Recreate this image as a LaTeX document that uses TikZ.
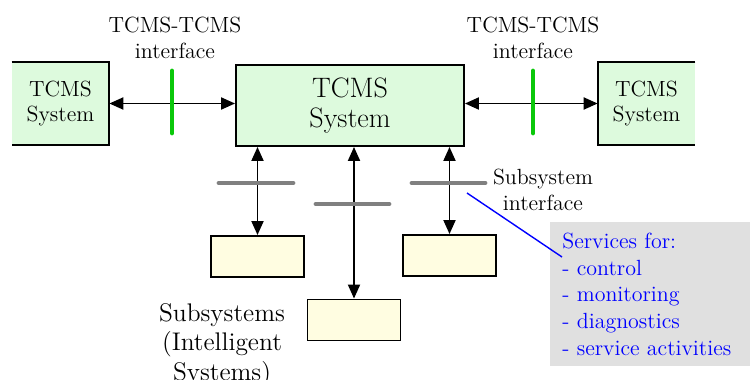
\documentclass[tikz,border=0pt]{standalone}
\usepackage{fontspec}
\usetikzlibrary{arrows.meta}
\definecolor{sysgreen}{RGB}{221,250,221}
\definecolor{subyellow}{RGB}{255,253,225}
\definecolor{ifgreen}{RGB}{10,200,10}
\definecolor{ifgray}{RGB}{128,128,128}
\definecolor{servgray}{RGB}{224,224,224}

\begin{document}
\begin{tikzpicture}
  [x=0.02cm,y=-0.02cm,>={Triangle[length=0.28cm,width=0.24cm]},
   every node/.style={font=\fontsize{12.5}{14.7}\selectfont,align=center},
   sysbox/.style={fill=sysgreen,minimum width=1.94cm,minimum height=1.66cm},
   mainbox/.style={draw,line width=1.1pt,fill=sysgreen,minimum width=4.56cm,minimum height=1.62cm,
     font=\fontsize{16}{17}\selectfont},
   subbox/.style={draw,line width=1.1pt,fill=subyellow,minimum width=1.86cm,minimum height=0.82cm},
   ifbar/.style={line width=2.8pt,line cap=round}]
  \useasboundingbox (0,0) rectangle (750,379);

  \node[sysbox] (lsys) at (60.5,103.5) {TCMS\\System};
  \node[sysbox] (rsys) at (646.5,103.5) {TCMS\\System};
  \node[mainbox] (tcms) at (350,105.5) {TCMS\\System};
  \node[subbox] (sub1) at (257.5,256.5) {};
  \node[subbox] (sub2) at (354,320) {};
  \node[subbox] (sub3) at (449.5,255.5) {};

  % open-sided outer systems
  \draw[line width=1.1pt] (lsys.north west) -- (lsys.north east) -- (lsys.south east) -- (lsys.south west);
  \draw[line width=1.1pt] (rsys.north east) -- (rsys.north west) -- (rsys.south west) -- (rsys.south east);

  \draw[<->,line width=1.1pt] (lsys.east) -- (lsys.east -| tcms.west);
  \draw[<->,line width=1.1pt] (rsys.west) -- (rsys.west -| tcms.east);
  \foreach \s in {sub1,sub2,sub3}
    \draw[<->,line width=1.1pt] (\s.north |- tcms.south) -- (\s.north);

  \draw[ifbar,ifgreen] (172,71) -- (172,133);
  \draw[ifbar,ifgreen] (533,71) -- (533,133);
  \draw[ifbar,ifgray] (219,183) -- (293,183);
  \draw[ifbar,ifgray] (316,204) -- (389,204);
  \draw[ifbar,ifgray] (412,183) -- (485,183);

  \node (lif) at (175,38) {TCMS-TCMS\\interface};
  \node (rif) at (533,38) {TCMS-TCMS\\interface};
  \node (subif) at (543,190) {Subsystem\\interface};
  \node[anchor=north,inner sep=0pt,font=\fontsize{14.5}{16.8}\selectfont] (sublabel) at (222,303)
    {Subsystems\\(Intelligent\\Systems)};

  \node[anchor=north west,fill=servgray,text=blue,align=left,text width=3.52cm,inner xsep=0.24cm,
    minimum height=2.88cm,font=\fontsize{12.5}{15.3}\selectfont] (services) at (550,222)
    {Services for:\\- control\\- monitoring\\- diagnostics\\- service activities};

  \coordinate (cstart) at (467,193);
  \coordinate (cend) at (562,257);
  \draw[blue,line width=0.8pt] (cstart) -- (cend);

\end{tikzpicture}
\end{document}
